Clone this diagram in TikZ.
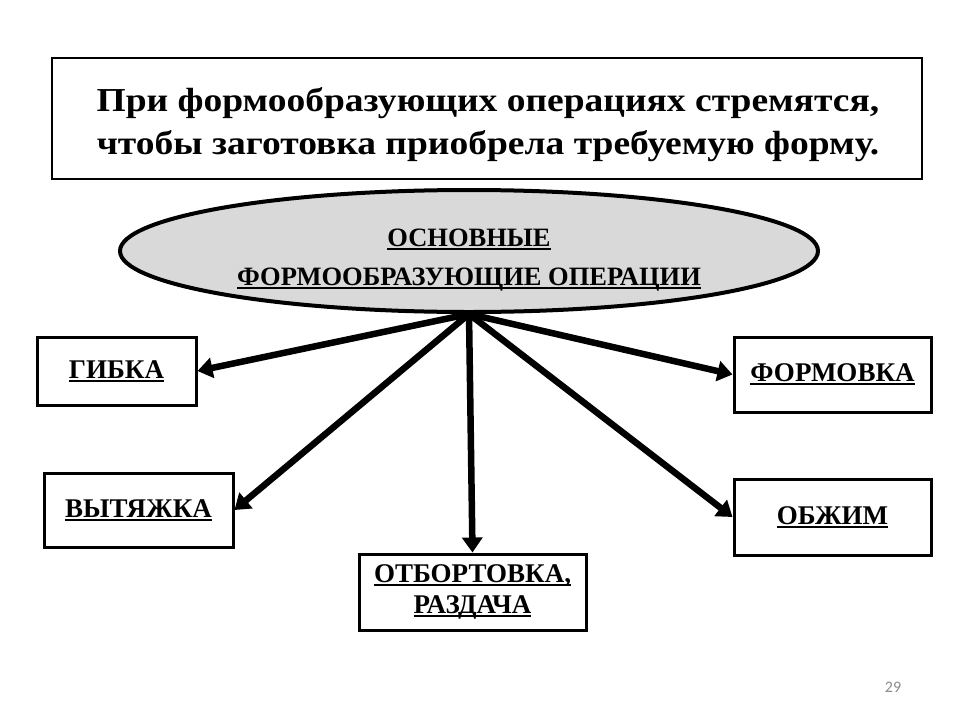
\documentclass[tikz,border=0pt]{standalone}
\usepackage{fontspec}
\setmainfont{Liberation Serif}
\newfontfamily\numfont{Carlito}
\usetikzlibrary{arrows.meta,shapes.geometric}
\definecolor{ellfill}{HTML}{D9D9D9}
\definecolor{pagegray}{HTML}{8C8C8C}
\newcommand\ulword[1]{\setbox0\hbox{#1}\rlap{\rule[-3.5pt]{\wd0}{1.8pt}}\box0}
\newcommand\wideline[1]{\scalebox{1.12}[1]{#1}}
\begin{document}
\begin{tikzpicture}[x=1pt,y=-1pt,
  opbox/.style={draw, line width=3pt, inner sep=0pt, align=center,
    font=\fontsize{27}{31}\selectfont\bfseries},
  link/.style={line width=6.5pt, -{Triangle[length=15pt,width=20pt]}},
  headbox/.style={draw, line width=2.5pt, inner sep=0pt,
    minimum width=870pt, minimum height=121pt}]
\useasboundingbox (0,0) rectangle (960,720);
\fill[white] (0,0) rectangle (960,720);

\node[headbox] (head) at (487,118.5) {};
\node[align=center, inner sep=0pt, font=\fontsize{33.5}{43}\selectfont\bfseries] (headtext) at (488,125)
  {\wideline{При формообразующих операциях стремятся,}\\\wideline{чтобы заготовка приобрела требуемую форму.}};

\node[draw, line width=4pt, fill=ellfill, ellipse, inner sep=0pt,
  minimum width=698pt, minimum height=122pt] (ell) at (469,251) {};
\node[align=center, inner sep=0pt, font=\fontsize{26.5}{39}\selectfont\bfseries]
  (elltext) at (469,260) {\ulword{ОСНОВНЫЕ}\\\ulword{ФОРМООБРАЗУЮЩИЕ ОПЕРАЦИИ}};

\node[opbox, minimum width=159pt, minimum height=68pt] (gibka) at (116.5,371) {\ulword{ГИБКА}};
\node[opbox, minimum width=189pt, minimum height=74pt] (vyt) at (138.5,510) {\ulword{ВЫТЯЖКА}};
\node[opbox, minimum width=227pt, minimum height=76pt] (otb) at (472.5,592) {\ulword{ОТБОРТОВКА,}\\\ulword{РАЗДАЧА}};
\node[opbox, minimum width=197pt, minimum height=75pt] (form) at (832.5,374.5) {\ulword{ФОРМОВКА}};
\node[opbox, minimum width=197pt, minimum height=76pt] (obzh) at (832.5,517) {\ulword{ОБЖИМ}};

\coordinate (src) at (469,314);
\draw[link] (src) -- (gibka.east);
\draw[link] (src) -- (vyt.east);
\draw[link] (src) -- (otb.north);
\draw[link] (src) -- (form.west);
\draw[link] (src) -- (obzh.west);

\node[font=\numfont\fontsize{16}{18}\selectfont, text=pagegray, inner sep=0pt] (pnum) at (893,687) {29};
\end{tikzpicture}
\end{document}
